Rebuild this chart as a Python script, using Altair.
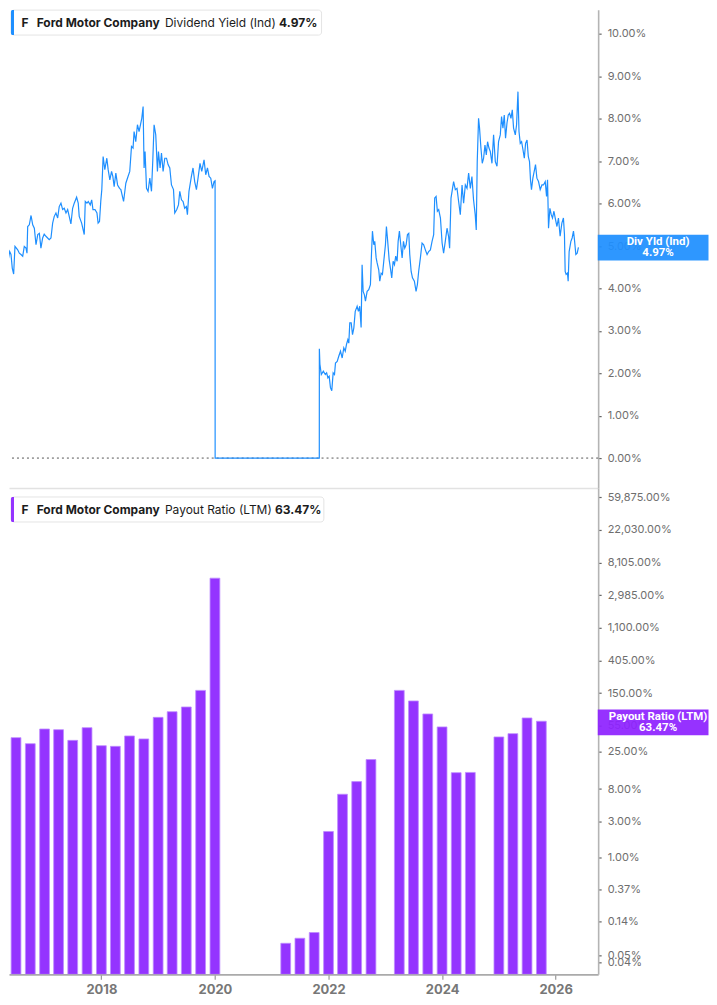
import altair as alt
import pandas as pd

# ---------------- data ----------------
# Dividend Yield (Ind), %, decimal-year dates
YIELD_T = [
    2016.322, 2016.380, 2016.426, 2016.449, 2016.473, 2016.496, 2016.518, 2016.542, 2016.565, 2016.612,
    2016.640, 2016.669, 2016.699, 2016.726, 2016.756, 2016.773, 2016.785, 2016.813, 2016.843, 2016.872,
    2016.900, 2016.929, 2016.959, 2016.987, 2017.014, 2017.044, 2017.071, 2017.101, 2017.130, 2017.158,
    2017.188, 2017.217, 2017.245, 2017.274, 2017.304, 2017.331, 2017.361, 2017.390, 2017.418, 2017.448,
    2017.477, 2017.504, 2017.533, 2017.563, 2017.591, 2017.632, 2017.660, 2017.677, 2017.719, 2017.764,
    2017.782, 2017.811, 2017.834, 2017.868, 2017.893, 2017.915, 2017.950, 2017.984, 2018.004, 2018.028,
    2018.051, 2018.068, 2018.091, 2018.120, 2018.155, 2018.178, 2018.207, 2018.237, 2018.259, 2018.282,
    2018.311, 2018.341, 2018.375, 2018.398, 2018.445, 2018.484, 2018.522, 2018.552, 2018.582, 2018.609,
    2018.627, 2018.656, 2018.685, 2018.713, 2018.743, 2018.760, 2018.783, 2018.800, 2018.817, 2018.842,
    2018.869, 2018.899, 2018.928, 2018.951, 2018.973, 2019.002, 2019.031, 2019.049, 2019.077, 2019.101,
    2019.129, 2019.158, 2019.188, 2019.215, 2019.245, 2019.274, 2019.309, 2019.331, 2019.366, 2019.395,
    2019.418, 2019.447, 2019.475, 2019.503, 2019.532, 2019.550, 2019.577, 2019.619, 2019.647, 2019.676,
    2019.706, 2019.734, 2019.768, 2019.798, 2019.838, 2019.867, 2019.897, 2019.925, 2019.954, 2019.983,
    2020.011, 2020.029, 2020.030, 2021.833, 2021.834, 2021.844, 2021.868, 2021.903, 2021.937, 2021.960,
    2021.982, 2022.004, 2022.026, 2022.049, 2022.073, 2022.096, 2022.113, 2022.143, 2022.170, 2022.200,
    2022.229, 2022.257, 2022.282, 2022.304, 2022.327, 2022.344, 2022.361, 2022.385, 2022.408, 2022.431,
    2022.455, 2022.488, 2022.510, 2022.533, 2022.557, 2022.574, 2022.592, 2022.614, 2022.632, 2022.661,
    2022.689, 2022.718, 2022.736, 2022.753, 2022.776, 2022.793, 2022.817, 2022.834, 2022.862, 2022.880,
    2022.904, 2022.926, 2022.949, 2022.978, 2022.995, 2023.017, 2023.042, 2023.064, 2023.087, 2023.111,
    2023.134, 2023.156, 2023.180, 2023.198, 2023.220, 2023.243, 2023.267, 2023.290, 2023.312, 2023.336,
    2023.359, 2023.382, 2023.399, 2023.423, 2023.446, 2023.479, 2023.508, 2023.531, 2023.553, 2023.583,
    2023.612, 2023.640, 2023.669, 2023.699, 2023.726, 2023.756, 2023.785, 2023.813, 2023.831, 2023.855,
    2023.877, 2023.900, 2023.930, 2023.959, 2023.985, 2024.014, 2024.044, 2024.071, 2024.089, 2024.113,
    2024.136, 2024.158, 2024.188, 2024.217, 2024.245, 2024.274, 2024.304, 2024.331, 2024.361, 2024.390,
    2024.418, 2024.448, 2024.475, 2024.503, 2024.532, 2024.550, 2024.567, 2024.590, 2024.607, 2024.631,
    2024.654, 2024.677, 2024.701, 2024.724, 2024.746, 2024.770, 2024.793, 2024.822, 2024.850, 2024.880,
    2024.909, 2024.936, 2024.966, 2024.988, 2025.012, 2025.035, 2025.057, 2025.082, 2025.104, 2025.127,
    2025.151, 2025.174, 2025.196, 2025.226, 2025.248, 2025.272, 2025.290, 2025.312, 2025.335, 2025.359,
    2025.382, 2025.404, 2025.429, 2025.451, 2025.472, 2025.489, 2025.506, 2025.530, 2025.553, 2025.576,
    2025.600, 2025.628, 2025.657, 2025.687, 2025.714, 2025.744, 2025.767, 2025.784, 2025.801, 2025.825,
    2025.848, 2025.870, 2025.895, 2025.917, 2025.947, 2025.973, 2026.002, 2026.032, 2026.059, 2026.077,
    2026.089, 2026.106, 2026.129, 2026.141, 2026.158, 2026.188, 2026.210, 2026.233, 2026.250, 2026.274,
    2026.297, 2026.319,
]
YIELD_V = [
    4.48, 4.56, 4.60, 4.68, 4.87, 4.80, 4.48, 4.34, 4.99, 4.91,
    4.83, 4.80, 4.76, 4.99, 4.95, 4.83, 5.46, 5.50, 5.72, 5.50,
    5.42, 5.03, 5.27, 5.30, 4.95, 5.19, 5.28, 5.23, 5.19, 5.15,
    5.19, 5.54, 5.70, 5.78, 5.66, 5.93, 6.01, 5.86, 5.89, 5.78,
    5.86, 5.70, 5.52, 5.89, 6.01, 6.15, 6.01, 5.70, 5.54, 5.27,
    6.05, 6.01, 6.05, 5.97, 6.09, 5.86, 5.86, 5.78, 5.54, 5.58,
    6.07, 6.33, 7.11, 6.80, 7.07, 6.80, 6.56, 6.76, 6.64, 6.40,
    6.72, 6.44, 6.36, 6.33, 6.05, 6.48, 6.64, 6.76, 7.35, 7.31,
    7.70, 7.46, 7.86, 7.70, 7.90, 8.01, 8.29, 6.84, 7.23, 6.36,
    6.29, 6.60, 6.29, 7.03, 7.86, 7.62, 6.76, 7.23, 6.84, 7.19,
    6.76, 7.07, 7.07, 6.92, 6.84, 6.44, 6.33, 5.78, 5.86, 5.97,
    6.29, 6.09, 6.05, 5.89, 5.93, 5.74, 6.29, 6.64, 6.84, 6.52,
    6.33, 6.60, 6.95, 6.76, 7.03, 6.68, 6.84, 6.64, 6.60, 6.36,
    6.52, 6.54, 0.00, 0.00, 2.58, 2.21, 1.97, 2.05, 1.97, 2.01,
    1.89, 1.93, 1.66, 1.59, 2.01, 1.97, 2.24, 2.28, 2.40, 2.52,
    2.36, 2.60, 2.52, 2.68, 2.79, 2.71, 3.19, 3.19, 2.91, 3.07,
    3.46, 3.58, 3.46, 3.58, 3.08, 4.56, 3.93, 3.85, 3.70, 3.93,
    3.97, 4.09, 4.80, 5.35, 5.03, 5.11, 4.72, 4.60, 4.44, 4.17,
    4.36, 4.33, 4.64, 5.03, 5.46, 5.11, 4.68, 4.48, 4.25, 4.64,
    4.56, 4.76, 4.64, 5.11, 5.35, 5.03, 4.72, 5.11, 4.95, 5.03,
    5.27, 5.30, 4.80, 4.40, 4.25, 4.17, 3.93, 4.09, 4.40, 4.72,
    5.07, 5.03, 4.91, 4.80, 4.87, 4.91, 5.11, 5.27, 6.13, 6.17,
    5.82, 5.86, 5.66, 5.07, 4.83, 5.11, 5.42, 5.23, 4.95, 6.13,
    6.33, 6.52, 6.33, 6.36, 6.05, 5.74, 6.44, 6.01, 6.44, 6.36,
    6.72, 6.36, 6.64, 6.09, 5.74, 5.38, 6.99, 8.01, 7.78, 7.31,
    6.95, 7.07, 7.38, 7.15, 7.46, 7.31, 7.23, 6.95, 7.62, 6.99,
    6.88, 7.46, 7.62, 8.05, 7.78, 8.09, 7.54, 7.90, 8.09, 8.13,
    8.01, 8.21, 7.78, 7.62, 7.86, 8.64, 7.70, 7.42, 7.46, 7.27,
    7.07, 7.42, 7.50, 7.11, 6.99, 6.56, 6.33, 6.60, 6.76, 6.92,
    6.60, 6.52, 6.33, 6.44, 6.44, 6.52, 6.17, 6.56, 5.42, 5.89,
    5.74, 5.66, 5.82, 5.66, 5.46, 5.66, 5.23, 5.54, 5.66, 5.27,
    4.40, 4.33, 4.36, 4.17, 4.87, 5.11, 5.19, 5.35, 5.15, 4.80,
    4.83, 4.97,
]

# Payout Ratio (LTM), %, quarter ends
BAR_DATES = [
    "2016-03-31", "2016-06-30", "2016-09-30", "2016-12-31",
    "2017-03-31", "2017-06-30", "2017-09-30", "2017-12-31",
    "2018-03-31", "2018-06-30", "2018-09-30", "2018-12-31",
    "2019-03-31", "2019-06-30", "2019-09-30", "2019-12-31",
    "2021-03-31", "2021-06-30", "2021-09-30", "2021-12-31",
    "2022-03-31", "2022-06-30", "2022-09-30",
    "2023-03-31", "2023-06-30", "2023-09-30", "2023-12-31",
    "2024-03-31", "2024-06-30", "2024-12-31",
    "2025-03-31", "2025-06-30", "2025-09-30",
]
BAR_VALUES = [
    32.0, 38.5, 32.0, 50.1,
    49.1, 35.4, 52.2, 30.1,
    29.5, 40.5, 37.0, 71.5,
    85.0, 98.2, 163.0, 5020.0,
    0.072, 0.084, 0.10, 2.19,
    6.83, 10.05, 19.7,
    163.0, 118.0, 79.3, 53.4,
    13.2, 13.3, 39.3,
    43.5, 70.2, 63.47,
]

X_TICKS = [2018, 2020, 2022, 2024, 2026]
YIELD_TICKS = [0, 1, 2, 3, 4, 5, 6, 7, 8, 9, 10]
PAYOUT_TICKS = [0.04, 0.05, 0.14, 0.37, 1, 3, 8, 25, 55, 150, 405,
                1100, 2985, 8105, 22030, 59875]

X_DOMAIN = [2016.4615, 2026.6603]
YIELD_DOMAIN = [-0.706, 10.572]
PAYOUT_DOMAIN = [0.0279, 78790]

# ---------------- styling ----------------
BLUE = "#1E8FFF"
PURPLE = "#9434FF"
PURPLE_BOX = "#8E22FF"
FONT = "Inter"
W, H1, H2 = 590, 479, 487


def dec_year(s):
    d = pd.Timestamp(s)
    n = 366 if d.is_leap_year else 365
    return d.year + d.dayofyear / n


ydf = pd.DataFrame({"t": YIELD_T, "v": YIELD_V})
bdf = pd.DataFrame({"t": [dec_year(s) for s in BAR_DATES], "v": BAR_VALUES})
bdf["base"] = PAYOUT_DOMAIN[0]
one = pd.DataFrame({"k": [0]})

xscale = alt.Scale(domain=X_DOMAIN, nice=False, zero=False)

yaxis_common = dict(
    orient="right", grid=False, title=None, labelOverlap=False,
    labelFont=FONT, labelFontSize=11, labelColor="#6e6e6e", labelPadding=6,
    tickSize=3, tickColor="#666666", tickWidth=1.2,
    domainColor="#b4b4b4", domainWidth=1.6,
)


def legend_layers(color, label, value, y0, value_x, box_x2):
    base = alt.Chart(one)
    box = base.mark_rect(fill="white", stroke="#e4e4e4", strokeWidth=1, cornerRadius=3).encode(
        x=alt.value(2), x2=alt.value(box_x2), y=alt.value(y0), y2=alt.value(y0 + 25))
    bar = base.mark_rect(fill=color, cornerRadiusTopLeft=2, cornerRadiusBottomLeft=2).encode(
        x=alt.value(2), x2=alt.value(5), y=alt.value(y0), y2=alt.value(y0 + 25))
    tx = dict(font=FONT, fontSize=12, align="left", baseline="middle", color="#1c1c1c")
    yc = y0 + 12.6
    t1 = base.mark_text(fontWeight="bold", **tx).encode(x=alt.value(12.6), y=alt.value(yc), text=alt.value("F"))
    t2 = base.mark_text(fontWeight="bold", **tx).encode(x=alt.value(27.7), y=alt.value(yc), text=alt.value("Ford Motor Company"))
    t3 = base.mark_text(fontWeight="normal", **tx).encode(x=alt.value(156.2), y=alt.value(yc), text=alt.value(label))
    t4 = base.mark_text(fontWeight="bold", **tx).encode(x=alt.value(value_x), y=alt.value(yc), text=alt.value(value))
    return [box, bar, t1, t2, t3, t4]


def value_box(color, line1, line2, y0):
    base = alt.Chart(one)
    rect = base.mark_rect(fill=color, opacity=0.93).encode(
        x=alt.value(589.6), x2=alt.value(700.5), y=alt.value(y0), y2=alt.value(y0 + 25.8))
    tx = dict(font="Roboto", fontSize=11.5, fontWeight="bold", align="center", baseline="middle", color="white")
    a = base.mark_text(**tx).encode(x=alt.value(650), y=alt.value(y0 + 7.2), text=alt.value(line1))
    b = base.mark_text(**tx).encode(x=alt.value(650), y=alt.value(y0 + 18.3), text=alt.value(line2))
    return [rect, a, b]


# ---------------- top panel: dividend yield ----------------
zero_rule = alt.Chart(one).mark_rule(color="#555555", strokeDash=[2, 3], strokeWidth=1).encode(
    y=alt.datum(0, scale=alt.Scale(domain=YIELD_DOMAIN, nice=False, zero=False)))

yield_line = alt.Chart(ydf).mark_line(color=BLUE, strokeWidth=1.2, clip=True).encode(
    x=alt.X("t:Q", scale=xscale,
            axis=alt.Axis(labels=False, ticks=False, grid=False, title=None,
                          domainColor="#e2e2e2", domainWidth=1.6)),
    y=alt.Y("v:Q", scale=alt.Scale(domain=YIELD_DOMAIN, nice=False, zero=False),
            axis=alt.Axis(values=YIELD_TICKS,
                          labelExpr="format(datum.value, '.2f') + '%'", **yaxis_common)),
)

top = alt.layer(
    zero_rule, yield_line,
    *legend_layers(BLUE, "Dividend Yield (Ind)", "4.97%", 0.4, 270.5, 313),
    *value_box(BLUE, "Div Yld (Ind)", "4.97%", 225.3),
).properties(width=W, height=H1)

# ---------------- bottom panel: payout ratio ----------------
bars = alt.Chart(bdf).mark_bar(color=PURPLE, stroke="#BE8BFF", strokeWidth=0.8, size=9.8, clip=True).encode(
    x=alt.X("t:Q", scale=xscale,
            axis=alt.Axis(values=X_TICKS, format="d", grid=False, title=None,
                          labelFont=FONT, labelFontSize=13, labelFontWeight="bold",
                          labelColor="#777777", labelPadding=4, labelFlush=False, labelOverlap=False,
                          tickSize=5, tickColor="#999999", tickWidth=1.2,
                          domainColor="#aaaaaa", domainWidth=1.6)),
    y=alt.Y("v:Q", scale=alt.Scale(type="log", domain=PAYOUT_DOMAIN, nice=False),
            axis=alt.Axis(values=PAYOUT_TICKS,
                          labelExpr="format(datum.value, ',.2f') + '%'", **yaxis_common)),
    y2=alt.Y2("base:Q"),
)

bottom = alt.layer(
    bars,
    *legend_layers(PURPLE, "Payout Ratio (LTM)", "63.47%", 9.0, 266.3, 315.3),
    *value_box(PURPLE_BOX, "Payout Ratio (LTM)", "63.47%", 221.7),
).properties(width=W, height=H2)

chart = alt.vconcat(top, bottom, spacing=0, bounds="flush").properties(
    padding=0, background="white"
).configure_view(stroke=None)

chart.save("out.html", embed_options={"renderer": "svg", "actions": False})
